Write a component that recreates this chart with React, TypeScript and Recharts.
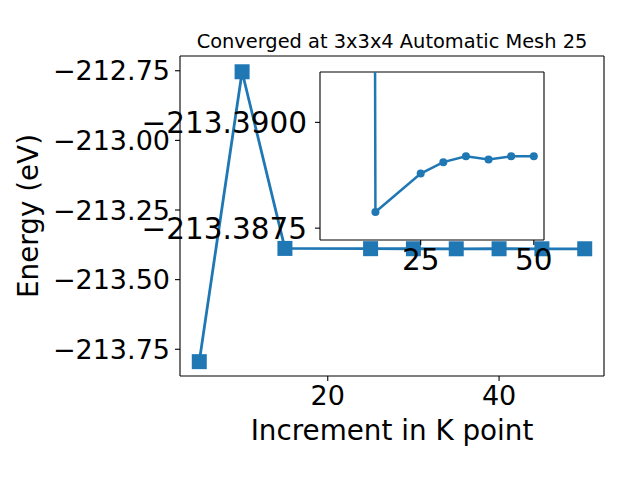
import React from "react";
import {
  LineChart,
  Line,
  XAxis,
  YAxis,
  CartesianGrid,
  ReferenceLine,
} from "recharts";

// k-point increments and total energies (eV)
const kPoints = [5, 10, 15, 25, 30, 35, 40, 45, 50];
const energies = [
  -213.7945, -212.7536, -213.38788, -213.38879, -213.38906, -213.3892,
  -213.38912, -213.3892, -213.3892,
];

// zoomed view (inset) points
const insetK = [5, 15, 25, 30, 35, 40, 45, 50];
const insetE = [
  -213.7945, -213.38788, -213.38879, -213.38906, -213.3892, -213.38912,
  -213.3892, -213.3892,
];

const mainXTicks = [20, 40];
const mainYTicks = [-213.75, -213.5, -213.25, -213.0, -212.75];
const insetXTicks = [25, 50];
const insetYTicks = [-213.39, -213.3875];

const title = "Converged at 3x3x4 Automatic Mesh 25";
const xLabel = "Increment in K point";
const yLabel = "Energy (eV)";

const BLUE = "#1f77b4";
const FONT = "DejaVu Sans";

const X_DOMAIN: [number, number] = [2.75, 52.25];
const MAIN_Y: [number, number] = [-213.846, -212.697];
const INSET_Y: [number, number] = [-213.39119, -213.38722];

const mainData = kPoints.map((k, i) => ({ k, e: energies[i] }));
const insetData = insetK.map((k, i) => ({ k, e: insetE[i] }));

const minus = (s: string) => s.replace("-", "\u2212");

const SquareDot = (props: any) => {
  const { cx, cy, index } = props;
  if (cx == null || cy == null) return null;
  return (
    <rect
      key={`sq-${index}`}
      x={cx - 7.5}
      y={cy - 7.5}
      width={15}
      height={15}
      fill={BLUE}
    />
  );
};

const black = { stroke: "#000", strokeWidth: 1.1 };

export default function App() {
  const tickStyleMain = { fontFamily: FONT, fontSize: 27, fill: "#000" };
  const tickStyleInset = { fontFamily: FONT, fontSize: 29.5, fill: "#000" };

  return (
    <div
      style={{
        position: "absolute",
        left: 0,
        top: 0,
        width: 640,
        height: 480,
        background: "#fff",
      }}
    >
      {/* main axes */}
      <div style={{ position: "absolute", left: 0, top: 0 }}>
        <LineChart
          width={640}
          height={480}
          data={mainData}
          margin={{ top: 56, right: 36, bottom: 64, left: 0 }}
        >
          <XAxis
            dataKey="k"
            type="number"
            domain={X_DOMAIN}
            ticks={mainXTicks}
            allowDataOverflow
            height={40}
            tick={tickStyleMain}
            tickSize={5}
            tickMargin={5}
            axisLine={black}
            tickLine={black}
            interval={0}
          />
          <YAxis
            dataKey="e"
            type="number"
            domain={MAIN_Y}
            ticks={mainYTicks}
            allowDataOverflow
            width={180}
            tick={tickStyleMain}
            tickFormatter={(v: number) => minus(v.toFixed(2))}
            tickSize={5}
            tickMargin={5}
            axisLine={black}
            tickLine={black}
            interval={0}
          />
          <ReferenceLine y={MAIN_Y[1]} stroke="#000" strokeWidth={1.1} />
          <ReferenceLine x={X_DOMAIN[1]} stroke="#000" strokeWidth={1.1} />
          <Line
            dataKey="e"
            stroke={BLUE}
            strokeWidth={2.8}
            dot={<SquareDot />}
            isAnimationActive={false}
          />
        </LineChart>
      </div>

      {/* inset axes */}
      <div style={{ position: "absolute", left: 0, top: 0 }}>
        <LineChart
          width={640}
          height={480}
          data={insetData}
          margin={{ top: 72, right: 96, bottom: 200, left: 0 }}
        >
          <CartesianGrid horizontal={false} vertical={false} fill="#fff" />
          <XAxis
            dataKey="k"
            type="number"
            domain={X_DOMAIN}
            ticks={insetXTicks}
            allowDataOverflow
            height={40}
            tick={tickStyleInset}
            tickSize={5}
            tickMargin={4}
            axisLine={black}
            tickLine={black}
            interval={0}
          />
          <YAxis
            dataKey="e"
            type="number"
            reversed
            domain={INSET_Y}
            ticks={insetYTicks}
            allowDataOverflow
            width={320}
            tick={tickStyleInset}
            tickFormatter={(v: number) => minus(v.toFixed(4))}
            tickSize={5}
            tickMargin={8}
            axisLine={black}
            tickLine={black}
            interval={0}
          />
          <ReferenceLine y={INSET_Y[0]} stroke="#000" strokeWidth={1.1} />
          <ReferenceLine x={X_DOMAIN[1]} stroke="#000" strokeWidth={1.1} />
          <Line
            dataKey="e"
            stroke={BLUE}
            strokeWidth={2.5}
            dot={{ r: 4, fill: BLUE, stroke: BLUE, strokeWidth: 0 }}
            isAnimationActive={false}
          />
        </LineChart>
      </div>

      {/* title and axis labels */}
      <svg
        width={640}
        height={480}
        style={{ position: "absolute", left: 0, top: 0, pointerEvents: "none" }}
      >
        <text
          x={392}
          y={48}
          textAnchor="middle"
          fontFamily={FONT}
          fontSize={19.4}
          fill="#000"
        >
          {title}
        </text>
        <text
          x={392}
          y={440}
          textAnchor="middle"
          fontFamily={FONT}
          fontSize={27.8}
          fill="#000"
        >
          {xLabel}
        </text>
        <text
          x={0}
          y={0}
          transform="translate(38,216) rotate(-90)"
          textAnchor="middle"
          fontFamily={FONT}
          fontSize={27.8}
          fill="#000"
        >
          {yLabel}
        </text>
      </svg>
    </div>
  );
}
